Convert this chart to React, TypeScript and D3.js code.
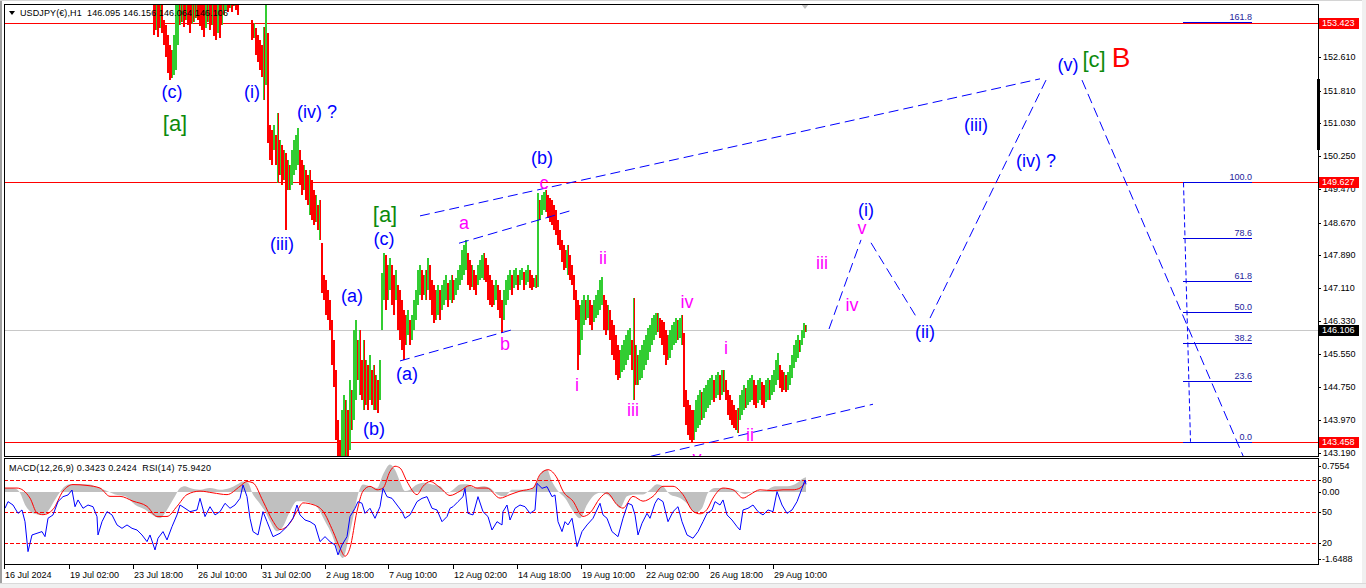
import React from "react";
import * as d3 from "d3";

// ---------- DATA ----------
const symbolHeader = "USDJPY(€),H1  146.095 146.156 146.064 146.106";
const indicatorHeader = "MACD(12,26,9) 0.3423 0.2424  RSI(14) 75.9420";

// price axis ticks
const priceTicks = [153.39, 152.61, 151.81, 151.03, 150.25, 149.47, 148.67, 147.89, 147.11, 146.33, 145.55, 144.75, 143.97, 143.19];
const levelLines = [153.423, 149.627, 143.458];
const bidPrice = 146.106;

// time axis (H1 bar index from left edge)
const timeLabels = ["16 Jul 2024", "19 Jul 02:00", "23 Jul 18:00", "26 Jul 10:00", "31 Jul 02:00", "2 Aug 18:00", "7 Aug 10:00", "12 Aug 02:00", "14 Aug 18:00", "19 Aug 10:00", "22 Aug 02:00", "26 Aug 18:00", "29 Aug 10:00"];
const timeLabelBars = [0, 65, 129, 193, 257, 321, 384, 449, 513, 577, 641, 705, 769];

// candles: 2-hour groups starting at H1 bar 149
const candleStartBar = 149;
const candleStep = 2;
const candleHigh = [
  154.20,154.20,154.20,154.20,154.20,153.49,153.37,153.13,152.90,152.78,
  153.13,153.85,154.20,154.20,154.20,154.20,154.20,154.20,154.20,154.20,
  154.20,154.20,154.20,154.20,154.20,153.85,154.20,154.20,154.20,154.20,
  154.20,153.85,154.20,154.20,154.20,154.20,154.30,154.30,154.30,154.30,
  154.30,154.30,154.30,154.40,154.45,154.50,154.45,154.40,154.30,153.49,
  153.42,153.30,153.13,153.01,152.90,153.32,153.85,153.18,150.99,150.87,
  150.99,150.75,151.28,150.64,150.52,150.40,150.33,150.16,150.04,150.40,
  150.64,150.75,150.92,150.40,150.16,150.04,149.92,149.80,149.92,149.68,
  149.45,149.33,149.09,149.21,148.19,147.42,147.31,147.07,146.83,146.35,
  145.87,145.16,143.97,143.50,144.21,144.57,144.45,144.21,144.93,144.69,
  146.11,146.35,145.87,146.11,145.40,145.87,145.40,145.28,145.52,145.16,
  145.28,145.04,144.93,145.40,147.47,147.95,147.90,147.66,147.83,147.66,
  147.42,147.54,147.19,147.07,146.83,146.59,146.47,146.59,146.35,146.47,
  146.83,147.07,147.54,147.66,147.54,147.42,147.54,147.83,147.66,147.31,
  147.19,147.07,147.19,147.07,147.19,147.31,147.42,147.23,147.31,147.42,
  147.31,147.35,147.54,147.66,148.02,148.14,148.26,147.95,147.78,147.66,
  147.54,147.42,147.66,147.78,147.90,147.95,147.83,147.66,147.42,147.31,
  147.19,147.31,147.19,147.07,146.83,147.07,147.31,147.42,147.54,147.42,
  147.54,147.59,147.42,147.54,147.59,147.49,147.54,147.66,147.54,147.42,
  147.35,147.42,149.37,149.21,149.33,149.40,149.45,149.33,149.26,149.21,
  149.09,148.97,148.73,148.49,148.26,148.14,148.02,148.14,147.90,147.66,
  147.42,147.07,146.83,146.71,146.83,146.95,146.83,146.95,146.83,146.71,
  146.83,146.95,147.07,147.31,147.37,146.95,146.83,146.71,146.59,146.35,
  146.23,145.99,145.76,145.64,145.76,145.87,145.99,146.11,146.16,145.87,
  146.88,145.76,145.52,145.64,145.76,145.87,145.99,146.16,146.23,146.40,
  146.47,146.52,146.52,146.40,146.35,146.31,146.11,145.99,146.11,146.23,
  146.31,146.40,146.35,146.40,146.47,146.04,144.69,144.45,144.33,144.21,
  144.21,144.45,144.57,144.69,144.64,144.74,144.81,144.93,144.97,145.04,
  144.93,145.04,145.11,145.04,145.16,145.16,144.93,144.69,144.57,144.45,
  144.33,144.21,144.26,144.57,144.69,144.81,144.74,144.93,144.97,145.04,
  144.93,144.81,144.93,144.97,144.88,144.81,144.93,144.97,144.93,145.04,
  145.16,145.40,145.57,145.28,145.16,145.11,145.04,145.11,145.28,145.52,
  145.76,145.87,145.99,145.87,146.11,146.28,146.23
];
const candleLow = [
  153.13,153.25,153.09,153.30,153.18,152.90,152.61,152.23,152.06,152.11,
  152.18,152.30,152.90,153.37,153.44,153.32,153.49,153.37,153.18,153.40,
  153.44,153.54,153.49,153.35,153.25,153.09,153.30,153.44,153.25,153.37,
  153.11,153.01,153.18,153.06,153.37,153.61,153.73,153.68,153.78,153.68,
  153.82,153.73,153.61,153.95,154.00,154.05,154.00,153.92,153.88,153.01,
  153.06,152.66,152.49,152.30,152.13,151.59,151.94,150.56,150.16,150.04,
  150.40,150.04,149.61,149.80,149.57,149.68,148.49,149.45,149.45,149.57,
  149.80,149.92,150.04,149.57,149.33,149.45,149.21,149.09,148.85,148.73,
  148.61,148.68,148.49,148.26,146.99,146.83,146.47,146.35,146.11,145.28,
  144.76,143.50,142.78,142.66,142.78,142.78,143.02,142.78,143.26,143.73,
  143.97,144.45,144.93,144.57,144.45,144.21,144.33,144.21,144.45,144.33,
  144.21,144.21,144.14,144.45,146.11,146.83,146.59,146.83,147.07,146.71,
  146.47,146.83,146.11,145.87,145.64,145.40,145.76,145.99,145.76,145.87,
  146.11,146.35,146.71,146.95,146.83,146.95,146.83,147.07,146.83,146.47,
  146.28,146.35,146.47,146.35,146.59,146.71,146.83,146.66,146.83,146.76,
  146.83,146.95,147.07,147.19,147.31,147.42,147.54,147.19,147.07,147.14,
  147.07,146.95,147.19,147.31,147.35,147.31,147.26,146.83,146.71,146.66,
  146.71,146.83,146.59,146.40,146.04,146.35,146.71,146.83,147.07,146.95,
  147.11,147.19,147.07,147.19,147.31,147.07,147.19,147.26,147.11,147.07,
  147.14,147.11,147.14,148.73,148.85,148.97,148.92,148.78,148.68,148.61,
  148.49,148.37,148.14,148.02,147.73,147.54,147.59,147.42,147.31,147.19,
  146.83,146.35,145.16,145.52,145.87,146.23,146.35,146.40,146.23,146.11,
  146.31,146.40,146.47,146.59,146.71,146.11,145.99,146.11,145.87,145.52,
  145.40,145.04,144.93,144.97,145.11,145.16,145.28,145.40,145.52,145.16,
  144.45,144.81,144.81,144.93,144.97,145.16,145.28,145.40,145.59,145.76,
  145.87,145.99,146.07,145.92,145.76,145.52,145.28,145.40,145.45,145.64,
  145.76,145.81,145.87,145.92,145.76,144.28,143.86,143.62,143.50,143.45,
  143.50,143.69,143.78,143.86,143.97,144.02,144.16,144.26,144.33,144.45,
  144.40,144.50,144.57,144.45,144.57,144.64,144.45,144.09,143.97,143.86,
  143.78,143.73,143.66,143.97,144.09,144.21,144.26,144.33,144.40,144.45,
  144.33,144.26,144.38,144.45,144.33,144.26,144.40,144.45,144.45,144.57,
  144.64,144.81,144.93,144.74,144.64,144.69,144.64,144.69,144.81,144.97,
  145.21,145.35,145.45,145.59,145.76,145.92,146.07
];

// indicators: [H1 bar index, value]
const macdHist: [number, number][] = [
  [1,0.09],[6,0.09],[11,0.08],[16,-0.02],[21,-0.29],[26,-0.44],[31,-0.50],[36,-0.52],[41,-0.50],[46,-0.37],[51,-0.18],[56,0],[61,0.13],[66,0.18],[76,0.18],[86,0.17],[91,0.13],[96,0.09],[103,0.02],[111,-0.06],[121,-0.10],[131,-0.29],[141,-0.40],[151,-0.56],[156,-0.60],[161,-0.48],[166,-0.29],[171,-0.10],[176,0.09],[181,0.13],[186,0.09],[196,0.05],[206,0.09],[216,0.05],[226,0.09],[233,0.17],[239,0.24],[244,0.21],[249,-0.06],[254,-0.21],[261,-0.44],[266,-0.67],[273,-0.90],[279,-0.79],[286,-0.44],[293,-0.21],[299,-0.21],[306,-0.25],[314,-0.37],[321,-0.67],[328,-0.98],[334,-1.36],[339,-1.51],[344,-1.13],[349,-0.60],[354,-0.06],[359,0.17],[366,0.13],[373,0.09],[379,0.40],[386,0.63],[391,0.51],[396,0.24],[401,0.02],[406,0.05],[413,0.17],[421,0.21],[428,0.17],[436,0.13],[443,-0.02],[449,0.05],[456,0.17],[463,0.18],[471,0.09],[479,0.13],[486,0.09],[493,-0.05],[501,-0.10],[508,0.05],[516,0.05],[526,0.05],[533,0.24],[538,0.47],[543,0.51],[548,0.24],[554,0.02],[561,-0.14],[568,-0.40],[576,-0.60],[583,-0.29],[589,-0.10],[596,-0.02],[603,-0.06],[609,-0.18],[616,-0.37],[623,-0.10],[631,-0.06],[639,-0.06],[646,0.05],[653,0.18],[659,0.13],[666,-0.06],[676,-0.14],[684,-0.29],[691,-0.48],[698,-0.37],[704,-0.02],[711,0.09],[721,0.09],[731,0.05],[741,-0.05],[751,0.02],[761,0.03],[771,0.13],[781,0.13],[791,0.18],[799,0.31],[802,0.34]
];
const macdSignal: [number, number][] = [
  [1,0.09],[13,0.09],[26,-0.14],[33,-0.48],[39,-0.52],[49,-0.40],[59,0.02],[69,0.17],[83,0.15],[96,0.09],[106,-0.10],[116,-0.10],[129,-0.21],[143,-0.33],[153,-0.56],[163,-0.56],[173,-0.33],[183,-0.06],[196,0.02],[209,-0.02],[223,-0.06],[236,0.13],[243,0.24],[249,0.21],[259,-0.21],[269,-0.67],[276,-0.86],[286,-0.71],[293,-0.44],[299,-0.25],[309,-0.29],[319,-0.44],[329,-0.90],[336,-1.28],[341,-1.47],[346,-1.28],[353,-0.44],[359,0.02],[366,0.13],[373,0.05],[379,0.09],[386,0.47],[391,0.59],[396,0.55],[403,0.24],[413,-0.06],[419,0.13],[426,0.24],[436,0.10],[446,-0.08],[456,0.02],[466,0.15],[473,0.09],[483,0.09],[496,-0.14],[506,-0.06],[516,0.02],[529,0.09],[536,0.40],[544,0.51],[553,0.32],[559,0.02],[569,-0.21],[579,-0.56],[586,-0.48],[596,-0.14],[603,-0.02],[613,-0.29],[619,-0.37],[629,-0.10],[639,-0.21],[649,-0.10],[659,0.13],[669,0.13],[679,-0.06],[689,-0.44],[696,-0.50],[703,-0.40],[709,-0.14],[719,0.09],[729,0.05],[739,-0.14],[746,-0.06],[756,0.05],[769,0.03],[779,0.05],[789,0.05],[796,0.09],[802,0.24]
];
const rsiSeries: [number, number][] = [
  [1,53.2],[4,59.5],[9,56.3],[14,48.4],[18,51.6],[21,40.5],[24,12.1],[28,27.9],[33,29.5],[38,31.1],[41,26.3],[44,43.7],[49,46.9],[54,59.5],[59,64.2],[64,65.8],[68,70.5],[71,54.7],[74,61.1],[79,53.2],[84,56.3],[89,54.7],[93,45.3],[94,27.9],[98,40.5],[103,50.0],[108,46.9],[113,37.4],[118,34.2],[123,37.4],[128,34.2],[133,32.6],[138,27.9],[143,21.6],[146,27.9],[151,13.7],[154,24.8],[159,31.1],[163,23.2],[168,35.8],[173,46.9],[176,56.3],[181,53.2],[186,50.0],[193,51.6],[196,62.6],[201,45.3],[206,54.7],[211,46.9],[216,50.0],[221,57.9],[226,53.2],[231,56.3],[236,62.6],[239,75.3],[243,64.2],[246,43.7],[249,31.1],[254,27.9],[259,50.0],[263,40.5],[269,26.3],[276,29.5],[283,35.8],[289,43.7],[293,56.3],[296,46.9],[301,42.1],[306,40.5],[311,37.4],[316,21.6],[321,26.3],[326,21.6],[331,18.4],[334,9.0],[338,18.4],[343,26.3],[346,45.3],[351,53.2],[354,59.5],[358,57.9],[361,48.4],[366,53.2],[371,43.7],[376,54.7],[379,72.1],[383,64.2],[388,62.6],[393,56.3],[398,50.0],[401,43.7],[406,46.9],[413,59.5],[418,62.6],[423,64.2],[428,53.2],[433,51.6],[438,40.5],[443,45.3],[446,53.2],[449,54.7],[454,59.5],[459,64.2],[461,72.1],[464,48.4],[469,46.9],[474,64.2],[479,50.0],[484,45.3],[488,32.6],[493,40.5],[498,37.4],[499,50.0],[503,56.3],[506,42.1],[511,53.2],[516,56.3],[521,54.7],[526,48.4],[531,51.6],[533,76.8],[538,72.1],[543,73.7],[548,64.2],[551,65.8],[554,40.5],[558,31.1],[561,40.5],[564,37.4],[568,43.7],[571,27.9],[573,16.9],[578,31.1],[583,37.4],[589,43.7],[596,57.9],[599,46.9],[603,43.7],[608,31.1],[614,26.3],[619,43.7],[624,57.9],[628,56.3],[631,46.9],[634,27.9],[638,39.0],[643,48.4],[646,43.7],[651,57.9],[654,62.6],[659,59.5],[664,40.5],[669,50.0],[674,54.7],[678,40.5],[683,27.9],[689,24.8],[694,31.1],[699,40.5],[703,48.4],[708,51.6],[711,59.5],[716,56.3],[719,61.1],[723,46.9],[728,42.1],[733,35.8],[736,32.6],[739,51.6],[744,53.2],[749,56.3],[754,50.0],[759,46.9],[764,51.6],[769,50.0],[773,69.0],[778,56.3],[783,48.4],[788,51.6],[793,59.5],[798,72.1],[801,80.0],[802,75.9]
];
const rsiLevels = [80, 50, 20];
const macdAxisLabels = ["0.7554", "0.00", "-1.6488"];
const macdAxisValues = [0.7554, 0, -1.6488];

// Elliott wave labels: [text, bar, price, kind]
const waveLabels: [string, number, number, string][] = [
  ["(c)", 168, 151.78, "blue"], ["[a]", 171, 151.02, "green"], ["(i)", 248, 151.78, "blue"],
  ["(iv) ?", 313, 151.30, "blue"], ["(iii)", 278, 148.16, "blue"], ["[a]", 381, 148.87, "green"],
  ["(c)", 380, 148.28, "blue"], ["(a)", 348, 146.92, "blue"], ["(b)", 370, 143.76, "blue"],
  ["(a)", 403, 145.07, "blue"], ["(b)", 538, 150.21, "blue"], ["c", 540, 149.61, "mag"],
  ["a", 460, 148.66, "mag"], ["b", 501, 145.78, "mag"], ["i", 573, 144.81, "mag"],
  ["ii", 599, 147.83, "mag"], ["iii", 629, 144.21, "mag"], ["iv", 683, 146.78, "mag"],
  ["v", 693, 143.07, "mag"], ["i", 722, 145.69, "mag"], ["ii", 746, 143.62, "mag"],
  ["iii", 818, 147.71, "mag"], ["iv", 848, 146.71, "mag"], ["v", 858, 148.54, "mag"],
  ["(i)", 862, 148.97, "blue"], ["(ii)", 921, 146.07, "blue"], ["(iii)", 972, 150.99, "blue"],
  ["(iv) ?", 1032, 150.14, "blue"], ["(v)", 1064, 152.42, "blue"], ["[c]", 1090, 152.54, "green"],
  ["B", 1117, 152.59, "red"]
];

// dashed trend / projection lines: [bar1, price1, bar2, price2]
const trendLines: [number, number, number, number][] = [
  [416, 148.83, 1036, 152.09],
  [455, 148.18, 566, 148.95],
  [396, 145.38, 511, 146.14],
  [632, 143.03, 869, 144.35],
  [825, 146.14, 857, 148.26],
  [867, 148.19, 913, 146.40],
  [926, 146.40, 1042, 152.06],
  [1078, 152.06, 1240, 143.07]
];

// Fibonacci retracement
const fibHigh = 149.627;
const fibLow = 143.458;
const fibRatios = [1.618, 1.0, 0.786, 0.618, 0.5, 0.382, 0.236, 0.0];
const fibLabels = ["161.8", "100.0", "78.6", "61.8", "50.0", "38.2", "23.6", "0.0"];
const fibBars = [1179, 1248];
const fibVertical = [1179, 1186];

const FONT = "'Liberation Sans', Arial, sans-serif";
const labelColors: Record<string, string> = { blue: "#0000ff", green: "#0c8a0c", mag: "#ff00ff", red: "#ff0000" };
const labelSizes: Record<string, number> = { blue: 18, green: 22, mag: 18, red: 28 };

export default function App() {
  const L = 4, R = 1318, T = 4, MB = 456, IT = 458, IB = 564;
  const x = d3.scaleLinear().domain([0, 1314]).range([L, R]);
  const y = d3.scaleLinear().domain([143.19, 152.61]).range([453, 57]);
  const rsiY = d3.scaleLinear().domain([20, 80]).range([543.3, 480]);
  const macdY = d3.scaleLinear().domain([-1.6488, 0.7554]).range([IB, 459]);

  // each 2-hour group is drawn as two 1px bars; colour from the move of its high / its low
  const candles = candleHigh.map((h, i) => {
    const l = candleLow[i];
    const ph = i > 0 ? candleHigh[i - 1] : h + 1;
    const pl = i > 0 ? candleLow[i - 1] : l + 1;
    return { bar: candleStartBar + i * candleStep, h, l, upA: h > ph, upB: l >= pl };
  });

  const histArea = d3.area<[number, number]>()
    .x(d => x(d[0])).y0(macdY(0)).y1(d => macdY(d[1])).curve(d3.curveMonotoneX);
  const sigLine = d3.line<[number, number]>()
    .x(d => x(d[0])).y(d => macdY(d[1])).curve(d3.curveMonotoneX);
  const rsiLine = d3.line<[number, number]>()
    .x(d => x(d[0])).y(d => rsiY(d[1]));

  const fibPrices = fibRatios.map(r => fibLow + r * (fibHigh - fibLow));
  const GREEN = "#32cd32", RED = "#ff0000";

  const boxLabel = (price: number, fill: string, key: string) => (
    <g key={key}>
      <rect x={1319} y={Math.round(y(price)) - 5} width={40} height={11} fill={fill} />
      <text x={1322} y={Math.round(y(price)) + 0.5} fill="#ffffff" fontSize={9} fontFamily={FONT} dominantBaseline="middle">{price.toFixed(3)}</text>
    </g>
  );

  return (
    <svg width={1366} height={588} style={{ position: "absolute", left: 0, top: 0, background: "#ffffff" }}>
      <defs>
        <clipPath id="mainClip"><rect x={L + 1} y={T + 1} width={R - L - 1} height={MB - T - 1} /></clipPath>
        <clipPath id="indClip"><rect x={L + 1} y={IT + 1} width={R - L - 1} height={IB - IT - 1} /></clipPath>
        <clipPath id="belowBox"><rect x={1319} y={Math.round(y(levelLines[1])) + 6} width={45} height={20} /></clipPath>
      </defs>
      <rect x={0} y={0} width={1366} height={588} fill="#ffffff" />
      {/* window frame */}
      <rect x={0} y={0} width={2} height={588} fill="#a0a0a0" />
      <rect x={0} y={0} width={1366} height={1} fill="#d4d4d4" />
      <rect x={1362} y={0} width={4} height={588} fill="#f0f0f0" />
      <rect x={0} y={583} width={1366} height={5} fill="#f0f0f0" />
      <line x1={0} x2={1366} y1={583.5} y2={583.5} stroke="#dadada" />

      {/* main panel */}
      <g clipPath="url(#mainClip)">
        {levelLines.map((p, i) => (
          <line key={"lv" + i} x1={L} x2={R} y1={Math.round(y(p)) + 0.5} y2={Math.round(y(p)) + 0.5} stroke="#ff0000" strokeWidth={1} />
        ))}
        <line x1={L} x2={R} y1={Math.round(y(bidPrice)) + 0.5} y2={Math.round(y(bidPrice)) + 0.5} stroke="#c8c8c8" strokeWidth={1} />
        {candles.map((c, i) => (
          <g key={"c" + i}>
            <rect x={x(c.bar)} y={y(c.h)} width={1} height={Math.max(1, y(c.l) - y(c.h))}
              fill={c.upA ? GREEN : RED} shapeRendering="crispEdges" />
            <rect x={x(c.bar) + 1} y={y(c.h)} width={1} height={Math.max(1, y(c.l) - y(c.h))}
              fill={c.upB ? GREEN : RED} shapeRendering="crispEdges" />
          </g>
        ))}
        {trendLines.map((t, i) => (
          <line key={"t" + i} x1={x(t[0])} y1={y(t[1])} x2={x(t[2])} y2={y(t[3])} stroke="#0000ff" strokeWidth={1} strokeDasharray="10,5" />
        ))}
        {/* fib */}
        <line x1={x(fibVertical[0]) + 0.5} y1={y(fibHigh)} x2={x(fibVertical[1]) + 0.5} y2={y(fibLow)} stroke="#0000ff" strokeDasharray="5,3" />
        {fibPrices.map((p, i) => (
          <g key={"f" + i}>
            <line x1={x(fibBars[0])} x2={x(fibBars[1])} y1={Math.round(y(p)) + 0.5} y2={Math.round(y(p)) + 0.5} stroke="#0000e0" strokeWidth={1} />
            <text x={x(fibBars[1])} y={Math.round(y(p)) - 2} textAnchor="end" fontSize={9} fontFamily={FONT} fill="#22229a">{fibLabels[i]}</text>
          </g>
        ))}
        {waveLabels.map((w, i) => (
          <text key={"w" + i} x={x(w[1])} y={y(w[2])} textAnchor="middle" dominantBaseline="central"
            fontSize={labelSizes[w[3]]} fontFamily={FONT} fill={labelColors[w[3]]}>{w[0]}</text>
        ))}
      </g>
      {/* shift marker */}
      <path d="M801,4 L809,4 L805,9 Z" fill="#c0c0c0" />

      {/* header */}
      <path d="M9,11 L15,11 L12,15 Z" fill="#000000" />
      <text x={20} y={16} fontSize={9} fontFamily={FONT} fill="#000000" xmlSpace="preserve"
        textLength={208} lengthAdjust="spacing">{symbolHeader}</text>

      {/* indicator panel */}
      <g clipPath="url(#indClip)">
        <path d={histArea(macdHist) || ""} fill="#c0c0c0" />
        {rsiLevels.map((v, i) => (
          <line key={"rl" + i} x1={L} x2={R} y1={Math.round(rsiY(v)) + 0.5} y2={Math.round(rsiY(v)) + 0.5} stroke="#ff0000" strokeDasharray="4,2" />
        ))}
        <path d={sigLine(macdSignal) || ""} fill="none" stroke="#ff0000" strokeWidth={1} />
        <path d={rsiLine(rsiSeries) || ""} fill="none" stroke="#0000ff" strokeWidth={1} />
      </g>
      <text x={9} y={471} fontSize={9} fontFamily={FONT} fill="#000000" xmlSpace="preserve"
        textLength={202} lengthAdjust="spacing">{indicatorHeader}</text>

      {/* frames */}
      <rect x={L + 0.5} y={T + 0.5} width={R - L} height={MB - T} fill="none" stroke="#000000" />
      <rect x={L + 0.5} y={IT + 0.5} width={R - L} height={IB - IT} fill="none" stroke="#000000" />
      <rect x={1317} y={79} width={3} height={71} fill="#000000" />

      {/* price axis */}
      {priceTicks.map((p, i) => {
        const yy = Math.round(y(p)) + 0.5;
        const hidden = Math.abs(p - levelLines[0]) < 0.1;
        const partly = Math.abs(p - levelLines[1]) < 0.2;
        if (hidden) return <line key={"pt" + i} x1={R} x2={R + 3} y1={yy} y2={yy} stroke="#000000" />;
        return (
          <g key={"pt" + i}>
            <line x1={R} x2={R + 3} y1={yy} y2={yy} stroke="#000000" />
            <text x={1323} y={yy} fontSize={9} fontFamily={FONT} fill="#000000" dominantBaseline="middle"
              clipPath={partly ? "url(#belowBox)" : undefined}>{p.toFixed(3)}</text>
          </g>
        );
      })}
      {boxLabel(levelLines[0], "#ff0000", "b0")}
      {boxLabel(levelLines[1], "#ff0000", "b1")}
      {boxLabel(bidPrice, "#000000", "b2")}
      {boxLabel(levelLines[2], "#ff0000", "b3")}

      {/* indicator axis */}
      {rsiLevels.map((v, i) => (
        <g key={"ra" + i}>
          <line x1={R} x2={R + 3} y1={Math.round(rsiY(v)) + 0.5} y2={Math.round(rsiY(v)) + 0.5} stroke="#000000" />
          <text x={1322} y={Math.round(rsiY(v)) + 0.5} fontSize={9} fontFamily={FONT} fill="#000000" dominantBaseline="middle">{v}</text>
        </g>
      ))}
      {macdAxisValues.map((v, i) => {
        const yy = i === 0 ? 466 : i === 2 ? 559 : Math.round(macdY(v));
        return (
          <g key={"ma" + i}>
            <line x1={R} x2={R + 3} y1={yy + 0.5} y2={yy + 0.5} stroke="#000000" />
            <text x={1322} y={yy + 0.5} fontSize={9} fontFamily={FONT} fill="#000000" dominantBaseline="middle">{macdAxisLabels[i]}</text>
          </g>
        );
      })}

      {/* time axis */}
      {timeLabels.map((t, i) => (
        <g key={"ta" + i}>
          <line x1={x(timeLabelBars[i]) + 0.5} x2={x(timeLabelBars[i]) + 0.5} y1={IB} y2={IB + 5} stroke="#000000" />
          <text x={x(timeLabelBars[i]) + 1} y={578} fontSize={9} fontFamily={FONT} fill="#000000">{t}</text>
        </g>
      ))}
    </svg>
  );
}
